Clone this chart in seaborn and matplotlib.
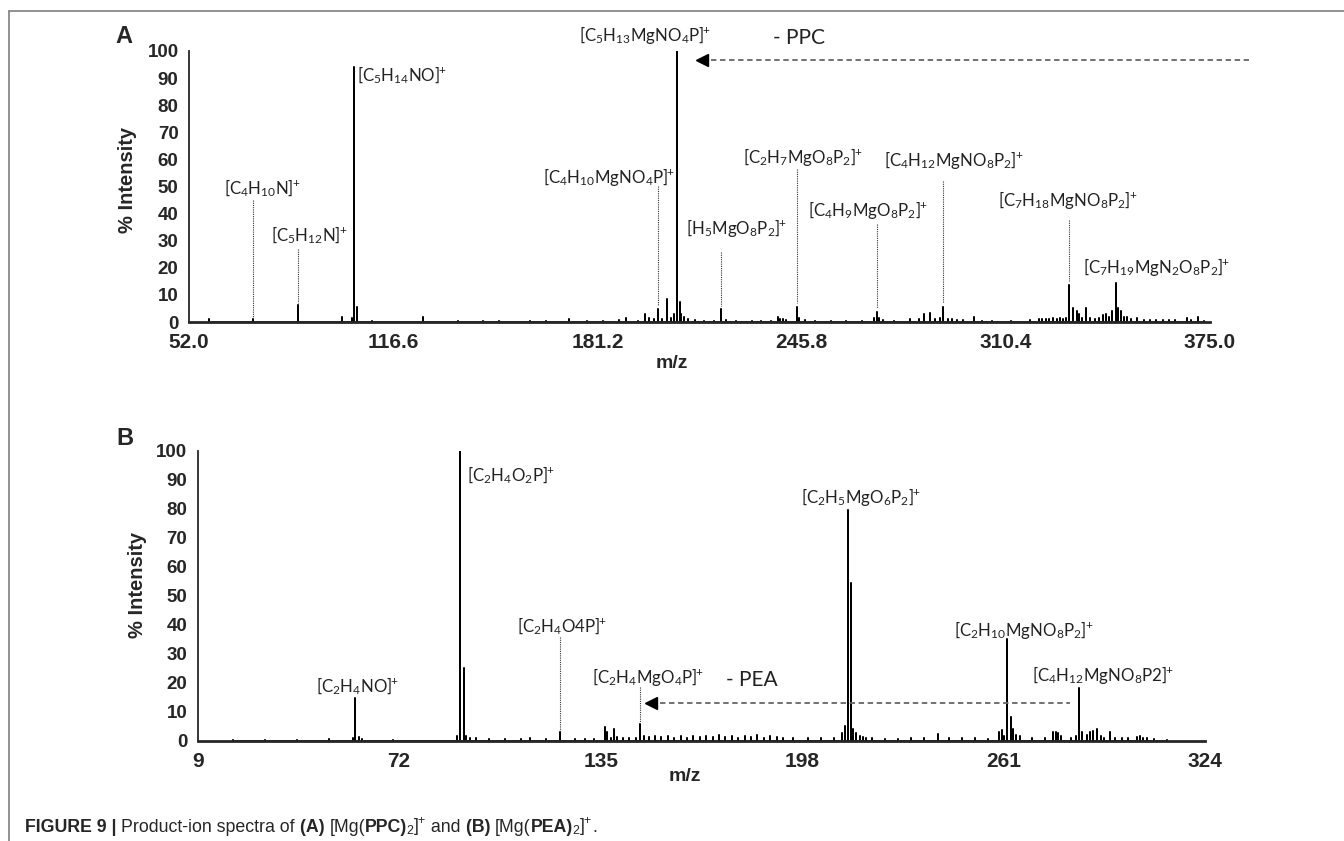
import numpy as np
import pandas as pd
import matplotlib
matplotlib.use("Agg")
import matplotlib.pyplot as plt
import seaborn as sns
from matplotlib.lines import Line2D

# ---- panel A : [Mg(PPC)2]+ ----
peak_mz_a = [72.2, 86.5, 104.2, 105.2, 200.3, 203.2, 206.3, 207.3, 220.4, 244.2,
             269.5, 290.5, 330.5, 345.4]
peak_int_a = [1.0, 6.3, 94.0, 5.5, 4.8, 8.5, 100.0, 7.5, 4.8, 5.5,
              3.8, 5.6, 13.6, 14.4]
minor_mz_a = [58.3, 100.4, 103.5, 110.0, 126.0, 137.0, 145.0, 150.0, 160.0, 165.0,
              172.2, 178.0, 183.0, 188.0, 190.3, 194.0, 196.2, 197.5, 199.0, 201.5,
              204.5, 205.5, 207.8, 208.5, 210.0, 212.0, 215.0, 218.0, 222.0, 225.0,
              230.0, 233.0, 236.0, 238.3, 239.0, 240.0, 241.0, 245.0, 247.0, 250.0,
              255.0, 260.0, 265.0, 268.8, 270.3, 271.5, 275.0, 280.0, 283.0, 284.5,
              286.4, 288.0, 289.5, 292.0, 293.5, 295.0, 297.0, 300.4, 303.0, 306.0,
              312.0, 318.0, 321.0, 322.0, 323.0, 324.0, 325.3, 326.5, 327.5, 328.5,
              329.5, 331.8, 332.8, 333.7, 334.5, 335.8, 337.0, 338.5, 340.0, 341.2,
              342.0, 343.0, 344.0, 346.0, 346.8, 347.8, 348.8, 350.0, 352.0, 354.0,
              356.0, 358.0, 360.0, 362.0, 364.0, 367.6, 369.0, 371.3, 373.0]
minor_int_a = [1.0, 2.0, 1.5, 0.5, 2.0, 0.5, 0.5, 0.5, 0.5, 0.5,
               1.0, 0.5, 0.5, 0.8, 1.5, 0.5, 3.0, 1.5, 1.0, 1.0,
               1.5, 3.0, 3.0, 2.0, 1.0, 0.8, 0.5, 0.5, 0.8, 0.5,
               0.5, 0.5, 0.5, 2.0, 1.2, 1.0, 0.8, 1.5, 0.8, 0.5,
               0.5, 0.5, 0.5, 1.5, 1.5, 0.8, 0.5, 1.0, 1.0, 3.0,
               3.2, 1.0, 1.5, 1.2, 1.0, 0.8, 0.6, 2.0, 0.5, 0.5,
               0.5, 0.6, 1.0, 1.2, 1.0, 1.2, 1.5, 1.2, 1.5, 1.2,
               1.5, 5.0, 4.0, 3.0, 1.5, 5.0, 1.5, 1.0, 1.5, 2.5,
               3.0, 2.0, 4.0, 5.0, 4.0, 2.0, 2.0, 1.0, 1.5, 0.8,
               0.8, 0.6, 0.6, 0.6, 0.8, 1.5, 0.8, 1.8, 0.5]
xticks_a = [52.0, 116.6, 181.2, 245.8, 310.4, 375.0]

labels_a = [
    ("[C_4H_{10}N]^+", 75.1, 49.4),
    ("[C_5H_{12}N]^+", 90.0, 32.1),
    ("[C_5H_{14}NO]^+", 119.4, 91.1),
    ("[C_4H_{10}MgNO_4P]^+", 184.9, 53.6),
    ("[C_5H_{13}MgNO_4P]^+", 196.3, 105.9),
    ("[H_5MgO_8P_2]^+", 225.3, 34.6),
    ("[C_2H_7MgO_8P_2]^+", 246.2, 61.0),
    ("[C_4H_9MgO_8P_2]^+", 266.8, 41.3),
    ("[C_4H_{12}MgNO_8P_2]^+", 294.0, 59.8),
    ("[C_7H_{18}MgNO_8P_2]^+", 330.1, 45.0),
    ("[C_7H_{19}MgN_2O_8P_2]^+", 358.2, 20.4),
]
leaders_a = [(72.2, 45, 2), (86.5, 27, 7), (200.3, 50.3, 6), (220.4, 26, 6),
             (244.2, 56.5, 7), (269.5, 36, 5), (290.5, 52, 7), (330.5, 37.6, 15)]

# ---- panel B : [Mg(PEA)2]+ ----
peak_mz_b = [58.2, 91.0, 92.2, 122.3, 136.4, 137.1, 139.3, 147.2, 212.4, 213.3,
             240.4, 260.4, 262.2, 263.3, 284.5]
peak_int_b = [14.6, 100.0, 25.2, 2.9, 4.6, 3.0, 3.9, 5.6, 79.6, 54.5,
              2.2, 3.7, 35.0, 8.3, 18.3]
minor_mz_b = [20.0, 30.0, 40.0, 50.0, 57.5, 59.5, 60.5, 70.0, 90.2, 93.0,
              94.0, 96.0, 100.0, 105.0, 110.0, 113.0, 118.0, 127.0, 130.0, 133.0,
              138.3, 140.0, 142.0, 144.0, 146.0, 148.5, 150.0, 152.0, 154.0, 156.0,
              158.0, 160.0, 162.0, 164.0, 166.0, 168.0, 170.0, 172.0, 174.0, 176.0,
              178.0, 180.0, 182.0, 184.0, 186.0, 188.0, 190.0, 192.0, 195.0, 200.0,
              204.0, 208.0, 210.5, 211.5, 214.0, 215.0, 216.0, 217.0, 218.0, 220.0,
              224.0, 228.0, 232.0, 236.0, 244.0, 248.0, 252.0, 256.0, 259.5, 261.0,
              264.0, 265.0, 266.0, 270.0, 274.0, 276.5, 277.3, 278.0, 279.0, 282.0,
              283.5, 285.6, 287.0, 288.0, 289.0, 290.3, 291.5, 292.5, 294.3, 296.0,
              298.0, 300.0, 302.8, 303.6, 304.5, 306.0, 308.0, 312.0]
minor_int_b = [0.3, 0.3, 0.3, 0.5, 1.0, 1.2, 0.5, 0.3, 1.5, 1.5,
               0.8, 0.8, 0.5, 0.5, 0.5, 0.8, 0.5, 0.5, 0.5, 0.5,
               1.0, 1.2, 1.0, 0.8, 1.0, 1.5, 1.2, 1.5, 1.2, 1.5,
               1.0, 1.5, 1.0, 1.5, 1.2, 1.5, 1.2, 1.8, 1.2, 1.5,
               1.0, 1.5, 1.2, 1.8, 1.0, 1.5, 1.2, 0.8, 0.8, 0.8,
               0.8, 1.0, 2.5, 5.0, 4.0, 2.5, 1.5, 1.2, 1.0, 0.8,
               0.5, 0.6, 0.8, 0.8, 0.8, 0.8, 0.8, 0.6, 3.0, 1.5,
               4.0, 2.0, 1.5, 0.8, 1.0, 3.0, 3.0, 2.5, 1.5, 1.0,
               1.5, 3.0, 2.0, 3.0, 3.5, 4.0, 1.5, 1.0, 3.0, 1.0,
               0.8, 0.8, 1.2, 1.5, 1.0, 0.8, 0.5, 0.3]
xticks_b = [9, 72, 135, 198, 261, 324]

labels_b = [
    ("[C_2H_4NO]^+", 59.1, 18.6),
    ("[C_2H_4O_2P]^+", 107.0, 91.6),
    ("[C_2H_4O4P]^+", 122.8, 39.3),
    ("[C_2H_4MgO_4P]^+", 149.8, 22.1),
    ("[C_2H_5MgO_6P_2]^+", 216.4, 84.1),
    ("[C_2H_{10}MgNO_8P_2]^+", 267.4, 38.2),
    ("[C_4H_{12}MgNO_8P2]^+", 292.1, 22.7),
]
leaders_b = [(122.3, 35.6, 3.5), (147.2, 18.6, 6.5)]

LABEL_FONT = "Lato"
AXIS_FONT = "Liberation Sans"


def ion(txt):
    # pull the charge sign a little closer to the closing bracket
    return r"$\mathregular{" + txt.replace("]^+", r"]\hspace{-0.07}^{+}") + "}$"


def stick_frame(mz, inten):
    """Turn a peak list into a zig-zag line (0 -> h -> 0) for each peak."""
    order = np.argsort(mz)
    xs, ys = [], []
    for i in order:
        xs += [mz[i], mz[i], mz[i]]
        ys += [0.0, inten[i], 0.0]
    return pd.DataFrame({"mz": xs, "intensity": ys})


def draw_spectrum(ax, mz, inten, xticks, fmt, labels, leaders):
    df = stick_frame(mz, inten)
    sns.lineplot(data=df, x="mz", y="intensity", sort=False, estimator=None,
                 color="black", lw=1.1, ax=ax)
    ax.set_xlim(xticks[0], xticks[-1])
    ax.set_ylim(0, 100)
    ax.set_xticks(xticks)
    ax.set_xticklabels([fmt.format(t) for t in xticks])
    ax.set_xticks(np.linspace(xticks[0], xticks[-1], 4 * (len(xticks) - 1) + 1), minor=True)
    ax.set_yticks(range(0, 101, 10))
    ax.set_yticks(range(5, 100, 10), minor=True)
    for lab in ax.get_xticklabels() + ax.get_yticklabels():
        lab.set_fontweight("bold")
        lab.set_family(AXIS_FONT)
    ax.tick_params(axis="x", labelsize=15, direction="in", length=3, width=1, pad=8)
    ax.tick_params(axis="y", labelsize=13.5, direction="inout", length=5, width=1, pad=5)
    ax.tick_params(which="minor", direction="inout", length=3, width=0.8)
    sns.despine(ax=ax)
    ax.spines["left"].set_linewidth(1.3)
    ax.spines["bottom"].set_linewidth(2.0)
    ax.set_ylabel("% Intensity", fontsize=14.5, fontweight="bold", family=AXIS_FONT)
    ax.set_xlabel("m/z", fontsize=14, fontweight="bold", family=AXIS_FONT)
    for x, y0, y1 in leaders:
        ax.plot([x, x], [y0, y1], color="#333333", lw=0.8, ls=(0, (1, 1)))
    for txt, x, y in labels:
        ax.text(x, y, ion(txt), ha="center", va="center",
                fontsize=12.2, family=LABEL_FONT, color="#222222")


sns.set_style("white")
plt.rcParams["font.family"] = ["Liberation Sans", "DejaVu Sans"]

fig = plt.figure(figsize=(13.44, 8.41), dpi=100)
ax_a = fig.add_axes([0.1406, 0.6171, 0.7597, 0.3223])
ax_b = fig.add_axes([0.1471, 0.1193, 0.7495, 0.3448])

draw_spectrum(ax_a, peak_mz_a + minor_mz_a, peak_int_a + minor_int_a,
              xticks_a, "{:.1f}", labels_a, leaders_a)
draw_spectrum(ax_b, peak_mz_b + minor_mz_b, peak_int_b + minor_int_b,
              xticks_b, "{:d}", labels_b, leaders_b)

ax_a.yaxis.set_label_coords(-0.051, 0.524)
ax_a.xaxis.set_label_coords(0.473, -0.122)
ax_b.yaxis.set_label_coords(-0.0503, 0.537)
ax_b.xaxis.set_label_coords(0.484, -0.094)

# neutral-loss arrows
ax_a.plot([214.3, 387.3], [96.7, 96.7], color="#666666", lw=1.3, ls=(0, (3, 2)), clip_on=False)
ax_a.plot([214.3], [96.7], marker="<", color="black", ms=8, clip_on=False)
ax_a.text(245.0, 104.8, "- PPC", ha="center", va="center", fontsize=15,
          family=LABEL_FONT, color="#222222", clip_on=False)
ax_b.plot([150.9, 281.8], [13.1, 13.1], color="#666666", lw=1.3, ls=(0, (3, 2)))
ax_b.plot([150.9], [13.1], marker="<", color="black", ms=8)
ax_b.text(182.4, 20.9, "- PEA", ha="center", va="center", fontsize=15,
          family=LABEL_FONT, color="#222222")

# panel letters
fig.text(0.0923, 0.957, "A", fontsize=17, fontweight="bold", ha="center", va="center")
fig.text(0.093, 0.479, "B", fontsize=17, fontweight="bold", ha="center", va="center")

# figure frame (left and top rules)
fx, fy = 9.3 / 1344, 1 - 10.7 / 841
fig.add_artist(Line2D([fx, fx], [0, fy], color="#7f7f7f", lw=1.2))
fig.add_artist(Line2D([fx, 1], [fy, fy], color="#7f7f7f", lw=1.2))

# caption with mixed weights
cap_parts = [
    ("FIGURE 9 | ", "bold"), ("Product-ion spectra of ", "normal"), ("(A) ", "bold"),
    ("[Mg(", "normal"), ("PPC)", "bold"), (r"$\mathregular{\!_2]\hspace{-0.07}^{+}}$", "normal"),
    (" and ", "normal"), ("(B) ", "bold"), ("[Mg(", "normal"), ("PEA)", "bold"),
    (r"$\mathregular{\!_2]\hspace{-0.07}^{+}}$", "normal"), (".", "normal"),
]
renderer = fig.canvas.get_renderer()
cx = 25 / 1344
for s, w in cap_parts:
    t = fig.text(cx, 1 - 832 / 841, s, fontsize=12.8, fontweight=w, va="baseline",
                 family="Liberation Sans")
    cx += t.get_window_extent(renderer=renderer).width / fig.bbox.width

fig.savefig("out.png", dpi=100)
